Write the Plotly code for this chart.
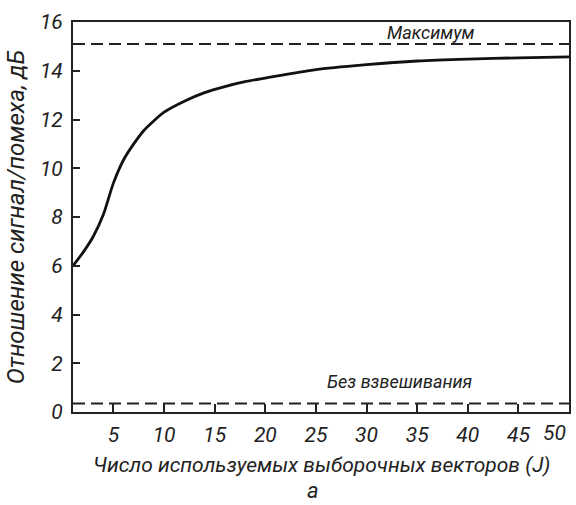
import plotly.graph_objects as go

J = [1, 2, 3, 4, 5, 6, 7, 8, 9, 10, 12, 14, 16, 18, 20, 25, 30, 35, 40, 45, 50]
snr = [6.0, 6.55, 7.2, 8.1, 9.4, 10.35, 11.0, 11.55, 11.95, 12.3, 12.75, 13.1,
       13.35, 13.55, 13.7, 14.05, 14.25, 14.4, 14.48, 14.53, 14.57]
max_level = 15.1
no_weight_level = 0.35
x_span = [1, 50]
x_ticks = [5, 10, 15, 20, 25, 30, 35, 40, 45, 50]
x_ticktext = ["5", "10", "15", "20", "25", "30", "35", "40", "45", ""]
last_tick_label = "50"
y_ticks = [0, 2, 4, 6, 8, 10, 12, 14, 16]

FONT = "Roboto, Liberation Sans, sans-serif"
INK = "#222"

fig = go.Figure()
fig.add_trace(go.Scatter(x=x_span, y=[max_level] * 2, mode="lines",
                         line=dict(color=INK, width=2, dash="12px,6px"), hoverinfo="skip"))
fig.add_trace(go.Scatter(x=x_span, y=[no_weight_level] * 2, mode="lines",
                         line=dict(color=INK, width=2, dash="12px,6px"), hoverinfo="skip"))
fig.add_trace(go.Scatter(x=J, y=snr, mode="lines",
                         line=dict(color="#111", width=2.8, shape="spline", smoothing=0.8)))

fig.add_annotation(x=x_ticks[-1], y=0, yanchor="top", xanchor="right", xshift=-1, yshift=-7,
                   text=last_tick_label, showarrow=False,
                   font=dict(family=FONT, size=21, color=INK, style="italic"))
fig.add_annotation(x=36.3, y=max_level, yshift=11, text="Максимум", showarrow=False,
                   font=dict(family=FONT, size=18, color=INK, style="italic"))
fig.add_annotation(x=33.3, y=no_weight_level, yshift=22, text="Без взвешивания", showarrow=False,
                   font=dict(family=FONT, size=18, color=INK, style="italic"))
fig.add_annotation(x=0.5, xref="paper", y=-0.136, yref="paper", yanchor="middle",
                   text="Число используемых выборочных векторов (J)", showarrow=False,
                   font=dict(family=FONT, size=21, color=INK, style="italic"))
fig.add_annotation(x=0.484, xref="paper", y=-0.2, yref="paper", yanchor="middle",
                   text="a", showarrow=False,
                   font=dict(family=FONT, size=22, color=INK, style="italic"))

fig.update_layout(
    width=576, height=505,
    margin=dict(l=73, r=7, t=22, b=93),
    paper_bgcolor="white", plot_bgcolor="white",
    showlegend=False,
    font=dict(family=FONT, color=INK, style="italic"),
    xaxis=dict(range=[1, 50], tickvals=x_ticks, ticktext=x_ticktext, ticks="inside",
               ticklen=8, tickwidth=1.5, automargin=False,
               tickcolor=INK, showline=True, linecolor=INK, linewidth=2, mirror=True,
               showgrid=False, zeroline=False, ticklabelstandoff=3,
               tickfont=dict(family=FONT, size=21, style="italic")),
    yaxis=dict(range=[0, 16], tickvals=y_ticks, ticks="inside", ticklen=7, tickwidth=1.5,
               tickcolor=INK, showline=True, linecolor=INK, linewidth=2, mirror=True,
               showgrid=False, zeroline=False, ticklabelstandoff=4, automargin=False,
               title=dict(text="Отношение сигнал/помеха, дБ", standoff=9,
                          font=dict(family=FONT, size=24, style="italic")),
               tickfont=dict(family=FONT, size=21, style="italic")),
)

fig.write_html(
    "out.html",
    config={"responsive": False, "displayModeBar": False},
    post_script="document.body.style.margin='0px';document.body.style.overflow='hidden';",
)
